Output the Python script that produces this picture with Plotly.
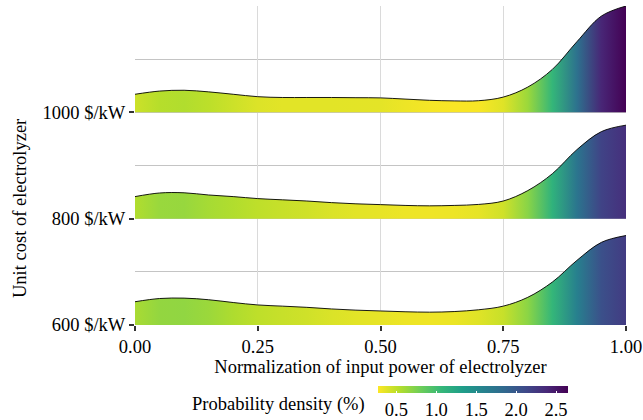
import plotly.graph_objects as go
from plotly.colors import sample_colorscale

# ---- data ----
x_grid = [0.00, 0.05, 0.10, 0.15, 0.20, 0.25, 0.30, 0.35, 0.40, 0.45, 0.50,
          0.55, 0.60, 0.65, 0.70, 0.75, 0.80, 0.85, 0.90, 0.95, 1.00]
categories = ["600 $/kW", "800 $/kW", "1000 $/kW"]
density_600 = [0.58, 0.66, 0.67, 0.63, 0.56, 0.50, 0.47, 0.44, 0.40, 0.37, 0.35,
               0.33, 0.32, 0.335, 0.38, 0.47, 0.69, 1.07, 1.61, 2.06, 2.23]
density_800 = [0.55, 0.64, 0.645, 0.59, 0.55, 0.50, 0.47, 0.44, 0.40, 0.37, 0.35,
               0.33, 0.32, 0.33, 0.355, 0.44, 0.70, 1.12, 1.72, 2.17, 2.33]
density_1000 = [0.45, 0.53, 0.55, 0.51, 0.45, 0.39, 0.37, 0.37, 0.37, 0.365, 0.36,
                0.33, 0.30, 0.285, 0.29, 0.38, 0.63, 1.07, 1.76, 2.40, 2.65]
densities = [density_600, density_800, density_1000]
density_limits = [0.27, 2.65]
x_ticks = [0.00, 0.25, 0.50, 0.75, 1.00]
x_ticklabels = ["0.00", "0.25", "0.50", "0.75", "1.00"]
cbar_ticks = [0.5, 1.0, 1.5, 2.0, 2.5]
cbar_ticklabels = ["0.5", "1.0", "1.5", "2.0", "2.5"]

FONT = "'Liberation Serif', 'Times New Roman', Times, serif"
FS = 18.5
dmin, dmax = density_limits
height_scale = dmax  # tallest ridge fills one category spacing


def col(d):
    t = (d - dmin) / (dmax - dmin)
    t = min(max(t, 0.0), 1.0)
    return sample_colorscale("Viridis_r", [t])[0]


fig = go.Figure()
for k in range(len(categories) - 1, -1, -1):
    base = k + 1
    dens = densities[k]
    fig.add_trace(go.Scatter(x=[x_grid[0], x_grid[-1]], y=[base, base], mode="lines",
                             line=dict(width=0, color="rgba(0,0,0,0)"),
                             hoverinfo="skip", showlegend=False))
    cs = [[x, col(d)] for x, d in zip(x_grid, dens)]
    fig.add_trace(go.Scatter(
        x=x_grid, y=[base + d / height_scale for d in dens], mode="lines",
        line=dict(color="black", width=0.9, shape="spline", smoothing=1.0),
        fill="tonexty",
        fillgradient=dict(type="horizontal", colorscale=cs, start=0, stop=1),
        showlegend=False, name=categories[k]))

fig.add_trace(go.Scatter(
    x=[None], y=[None], mode="markers", showlegend=False,
    marker=dict(color=[dmin], cmin=dmin, cmax=dmax, colorscale="Viridis", reversescale=True,
                showscale=True,
                colorbar=dict(orientation="h", x=(473 - 135) / 491, xanchor="center",
                              y=(325 - 386) / 319, yanchor="top",
                              len=190, lenmode="pixels", thickness=7, outlinewidth=0,
                              tickvals=cbar_ticks, ticktext=cbar_ticklabels,
                              ticks="inside", ticklen=2, tickcolor="white", tickwidth=1,
                              tickfont=dict(family=FONT, size=FS, color="black"),
                              xpad=0, ypad=0))))

fig.add_annotation(text="Probability density (%)", xref="paper", yref="paper",
                   x=(367 - 135) / 491, y=(325 - 404) / 319, xanchor="right", yanchor="middle",
                   showarrow=False, font=dict(family=FONT, size=FS, color="black"))
fig.add_annotation(text="Unit cost of electrolyzer", xref="paper", yref="paper",
                   x=(20 - 135) / 491, y=(325 - 209) / 319, xanchor="center", yanchor="middle",
                   textangle=-90, showarrow=False, font=dict(family=FONT, size=FS, color="black"))

fig.update_layout(
    width=643, height=420,
    margin=dict(l=135, r=17, t=6, b=95, autoexpand=False),
    paper_bgcolor="white", plot_bgcolor="white",
    font=dict(family=FONT, size=FS, color="black"),
    xaxis=dict(range=[0, 1], tickvals=x_ticks, ticktext=x_ticklabels,
               showgrid=True, gridcolor="#dadada", gridwidth=1, zeroline=False,
               showline=False, ticks="outside", ticklen=5, tickwidth=2, tickcolor="#333333",
               tickfont=dict(family=FONT, size=FS, color="black"),
               title=dict(text="Normalization of input power of electrolyzer",
                          font=dict(family=FONT, size=FS, color="black"), standoff=2)),
    yaxis=dict(range=[1, 4.0], tickvals=[1, 2, 3], ticktext=categories,
               showgrid=True, gridcolor="#c4c4c4", gridwidth=1, zeroline=False,
               showline=False, ticks="outside", ticklen=5, tickwidth=2, tickcolor="#333333",
               tickfont=dict(family=FONT, size=FS, color="black"),
               minor=dict(tickvals=[1.5, 2.5, 3.5, 4.0], showgrid=True, gridcolor="#c4c4c4",
                          gridwidth=1, ticklen=0)),
)

fig.write_html("out.html")
